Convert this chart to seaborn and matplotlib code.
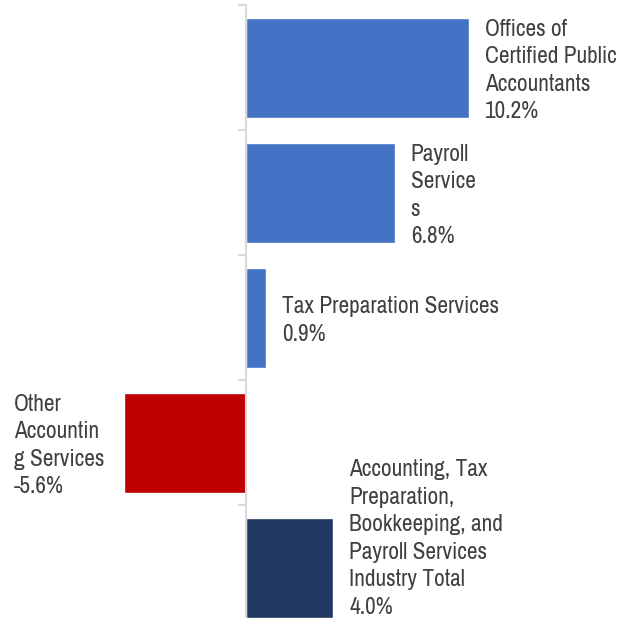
import matplotlib
matplotlib.use("Agg")
import matplotlib.pyplot as plt
import seaborn as sns
import pandas as pd

categories = [
    "Offices of Certified Public Accountants",
    "Payroll Services",
    "Tax Preparation Services",
    "Other Accounting Services",
    "Accounting, Tax Preparation, Bookkeeping, and Payroll Services Industry Total",
]
values = [10.2, 6.8, 0.9, -5.6, 4.0]
labels = [
    "Offices of\nCertified Public\nAccountants\n10.2%",
    "Payroll\nService\ns\n6.8%",
    "Tax Preparation Services\n0.9%",
    "Other\nAccountin\ng Services\n-5.6%",
    "Accounting, Tax\nPreparation,\nBookkeeping, and\nPayroll Services\nIndustry Total\n4.0%",
]
colors = ["#4472C4", "#4472C4", "#4472C4", "#C00000", "#203864"]

sns.set_theme(style="white")
plt.rcParams["font.family"] = ["Archivo Narrow", "Roboto Condensed", "DejaVu Sans"]

df = pd.DataFrame({"category": categories, "value": values})

fig = plt.figure(figsize=(6.21, 6.18), dpi=100)
ax = fig.add_axes([0, -12 / 618, 1, (613 + 12) / 618])

sns.barplot(data=df, x="value", y="category", hue="category", palette=colors,
            orient="h", width=0.8, legend=False, ax=ax, saturation=1)

ax.set_xlim(-11.25, 17.15)
ax.set_ylim(4.5, -0.5)
for s in ["top", "right", "bottom"]:
    ax.spines[s].set_visible(False)
ax.spines["left"].set_position(("data", 0))
ax.spines["left"].set_color("#D9D9D9")
ax.spines["left"].set_linewidth(1.5)
ax.set_xticks([])
ax.set_yticks([-0.5, 0.5, 1.5, 2.5, 3.5])
ax.set_yticklabels([])
ax.tick_params(axis="y", direction="out", length=6, width=1.5, color="#D9D9D9", left=True)
ax.set_xlabel("")
ax.set_ylabel("")

txt_kw = dict(fontsize=16.8, color="#404040", linespacing=1.38, textcoords="offset pixels")
for i, (v, lab) in enumerate(zip(values, labels)):
    if v >= 0:
        dy = 29 if i == 4 else -3
        ax.annotate(lab, (v, i), xytext=(16, dy), ha="left", va="center", **txt_kw)
    else:
        ax.annotate(lab, (v, i), xytext=(-19, -3), ha="right", va="center",
                    multialignment="left", **txt_kw)

fig.savefig("out.png", dpi=100)
